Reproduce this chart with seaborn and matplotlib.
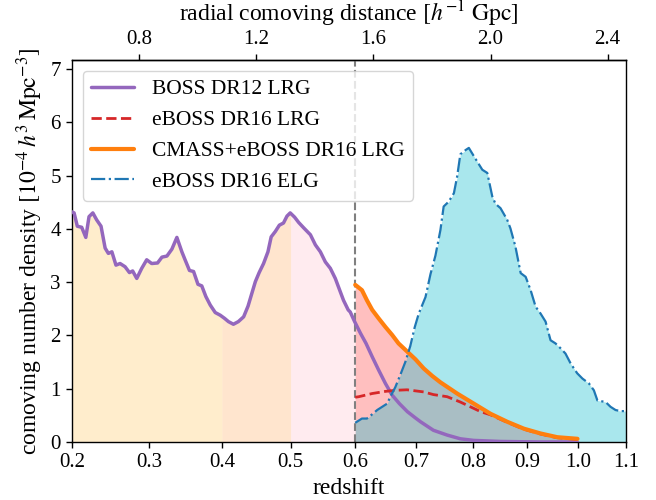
import numpy as np
import matplotlib
matplotlib.use("Agg")
import matplotlib.pyplot as plt
import seaborn as sns

# ---- data: x = radial comoving distance [h^-1 Gpc], y = n(z) [1e-4 h^3 Mpc^-3]
boss_dist = [0.571, 0.578, 0.589, 0.604, 0.618, 0.629, 0.642, 0.655, 0.670, 0.684,
             0.695, 0.707, 0.721, 0.735, 0.752, 0.767, 0.778, 0.792, 0.809, 0.826,
             0.843, 0.863, 0.878, 0.895, 0.912, 0.929, 0.946, 0.957, 0.972, 0.986,
             1.001, 1.014, 1.028, 1.043, 1.060, 1.077, 1.092, 1.105, 1.122, 1.139,
             1.157, 1.172, 1.185, 1.197, 1.210, 1.225, 1.240, 1.251, 1.265, 1.279,
             1.293, 1.305, 1.316, 1.331, 1.345, 1.362, 1.385, 1.402, 1.419, 1.436,
             1.453, 1.470, 1.485, 1.498, 1.514, 1.521, 1.536, 1.556, 1.575, 1.596,
             1.618, 1.641, 1.664, 1.689, 1.716, 1.744, 1.761, 1.805, 1.852, 1.897,
             1.942, 2.034, 2.171, 2.297]
boss_nz = [4.32, 4.30, 4.05, 4.03, 3.84, 4.23, 4.30, 4.17, 4.05, 3.64,
           3.54, 3.57, 3.32, 3.35, 3.29, 3.18, 3.21, 3.07, 3.26, 3.42,
           3.35, 3.36, 3.47, 3.49, 3.62, 3.84, 3.57, 3.42, 3.22, 3.20,
           2.96, 2.93, 2.73, 2.57, 2.43, 2.38, 2.32, 2.26, 2.21, 2.26,
           2.35, 2.55, 2.79, 3.01, 3.18, 3.35, 3.57, 3.85, 3.95, 4.07,
           4.11, 4.24, 4.30, 4.22, 4.12, 4.02, 3.89, 3.70, 3.57, 3.38,
           3.26, 3.07, 2.85, 2.66, 2.48, 2.44, 2.26, 2.04, 1.85, 1.60,
           1.35, 1.10, 0.88, 0.72, 0.57, 0.45, 0.38, 0.22, 0.13, 0.06,
           0.03, 0.01, 0.00, 0.00]

lrg_dist = [1.538, 1.550, 1.596, 1.641, 1.675, 1.715, 1.772, 1.805, 1.852, 1.897,
            1.943, 1.966, 2.000, 2.057, 2.114, 2.171, 2.228, 2.297]
lrg_nz = [0.84, 0.85, 0.91, 0.95, 0.97, 0.98, 0.94, 0.89, 0.85, 0.75,
          0.63, 0.57, 0.51, 0.37, 0.24, 0.15, 0.08, 0.05]

cmass_dist = [1.538, 1.561, 1.578, 1.596, 1.618, 1.641, 1.664, 1.686, 1.715, 1.744,
              1.772, 1.801, 1.829, 1.886, 1.943, 2.000, 2.057, 2.114, 2.171, 2.228,
              2.297]
cmass_nz = [2.95, 2.85, 2.66, 2.48, 2.32, 2.16, 2.01, 1.85, 1.70, 1.55,
            1.38, 1.24, 1.12, 0.91, 0.72, 0.53, 0.38, 0.25, 0.16, 0.09,
            0.06]

elg_dist = [1.538, 1.561, 1.578, 1.596, 1.613, 1.630, 1.647, 1.658, 1.675, 1.692,
            1.709, 1.726, 1.741, 1.755, 1.778, 1.795, 1.812, 1.829, 1.840, 1.857,
            1.875, 1.886, 1.897, 1.915, 1.926, 1.937, 1.955, 1.972, 1.989, 2.006,
            2.017, 2.034, 2.057, 2.068, 2.085, 2.103, 2.120, 2.137, 2.154, 2.171,
            2.188, 2.205, 2.222, 2.239, 2.256, 2.274, 2.296, 2.314, 2.336, 2.353,
            2.365, 2.393, 2.410, 2.427, 2.444, 2.463]
elg_nz = [0.36, 0.44, 0.44, 0.52, 0.60, 0.66, 0.72, 0.85, 1.03, 1.26,
          1.50, 1.80, 2.15, 2.41, 2.72, 3.15, 3.50, 3.98, 4.42, 4.51,
          4.67, 4.98, 5.40, 5.48, 5.52, 5.42, 5.26, 5.11, 5.05, 4.61,
          4.47, 4.39, 4.17, 4.01, 3.67, 3.17, 3.10, 2.85, 2.54, 2.41,
          2.26, 1.91, 1.85, 1.76, 1.66, 1.47, 1.29, 1.19, 1.10, 0.97,
          0.78, 0.75, 0.66, 0.60, 0.58, 0.58]

labels = ["BOSS DR12 LRG", "eBOSS DR16 LRG", "CMASS+eBOSS DR16 LRG", "eBOSS DR16 ELG"]
redshift_ticks = [0.2, 0.3, 0.4, 0.5, 0.6, 0.7, 0.8, 0.9, 1.0, 1.1]
distance_ticks = [0.8, 1.2, 1.6, 2.0, 2.4]
yticks = [0, 1, 2, 3, 4, 5, 6, 7]
band_edges_z = [0.2, 0.4, 0.5, 0.6]
z_range = [0.2, 1.1]
OMEGA_M = 0.31


def comoving_distance(z):
    """radial comoving distance in h^-1 Gpc (flat LCDM)"""
    zz = np.linspace(0.0, z, 4001)
    inv_e = 1.0 / np.sqrt(OMEGA_M * (1 + zz) ** 3 + 1 - OMEGA_M)
    return 2.99792458 * np.trapezoid(inv_e, zz)


sns.set_theme(style="ticks", rc={
    "axes.edgecolor": "black", "text.color": "black", "axes.labelcolor": "black",
    "xtick.color": "black", "ytick.color": "black", "axes.linewidth": 1.0,
    "xtick.major.size": 4.5, "ytick.major.size": 4.5,
    "xtick.major.width": 1.0, "ytick.major.width": 1.0,
})
plt.rcParams["font.family"] = ["Liberation Serif", "DejaVu Serif"]
plt.rcParams["mathtext.fontset"] = "stix"

fig = plt.figure(figsize=(6.56, 5.0), dpi=100)
ax = fig.add_axes([72 / 656, 58 / 500, 554 / 656, 382 / 500])

# shaded redshift bands under the BOSS curve
band_colors = [("orange", 0.2), ("tab:orange", 0.2), ("pink", 0.3)]
bd = np.array(boss_dist)
bn = np.array(boss_nz)
for (c, a), z0, z1 in zip(band_colors, band_edges_z[:-1], band_edges_z[1:]):
    d0, d1 = comoving_distance(z0), comoving_distance(z1)
    inside = bd[(bd > d0) & (bd < d1)]
    xs = np.concatenate([[d0], inside, [d1]])
    ax.fill_between(xs, np.interp(xs, bd, bn), 0, color=c, alpha=a, lw=0, zorder=1)

ax.fill_between(cmass_dist, cmass_nz, 0, color="red", alpha=0.25, lw=0, zorder=1)
ax.fill_between(elg_dist, elg_nz, 0, color="tab:cyan", alpha=0.37, lw=0, zorder=1)

ax.axvline(comoving_distance(0.6), color="gray", ls="--", lw=1.5, zorder=1.5)

sns.lineplot(x=boss_dist, y=boss_nz, ax=ax, color="tab:purple", lw=2.5,
             label=labels[0], zorder=3)
sns.lineplot(x=lrg_dist, y=lrg_nz, ax=ax, color="tab:red", lw=2.0,
             linestyle="--", label=labels[1], zorder=3)
sns.lineplot(x=cmass_dist, y=cmass_nz, ax=ax, color="tab:orange", lw=3.0,
             label=labels[2], zorder=3)
sns.lineplot(x=elg_dist, y=elg_nz, ax=ax, color="tab:blue", lw=1.6,
             linestyle="-.", label=labels[3], zorder=3)

fs_tick = 15
ax.set_xlim(comoving_distance(z_range[0]), comoving_distance(z_range[1]))
ax.set_ylim(0, 7.17)
ax.set_xticks([comoving_distance(z) for z in redshift_ticks])
ax.set_xticklabels([f"{z:.1f}" for z in redshift_ticks], fontsize=fs_tick)
ax.set_yticks(yticks)
ax.set_yticklabels([str(v) for v in yticks], fontsize=fs_tick)
ax.set_xlabel("redshift", fontsize=17, labelpad=4)
ax.set_ylabel(r"comoving number density $[10^{-4}\,h^{3}\,\mathrm{Mpc}^{-3}]$",
              fontsize=17, labelpad=4)

sec = ax.secondary_xaxis("top")
sec.set_xticks(distance_ticks)
sec.set_xticklabels([f"{v:.1f}" for v in distance_ticks], fontsize=fs_tick)
sec.set_xlabel(r"radial comoving distance $[h^{-1}\ \mathrm{Gpc}]$", fontsize=17, labelpad=6)
sec.tick_params(direction="out", length=4.5, width=1.0)

ax.legend(loc="upper left", fontsize=15.5, frameon=True, fancybox=True)

fig.savefig("out.png", dpi=100)
